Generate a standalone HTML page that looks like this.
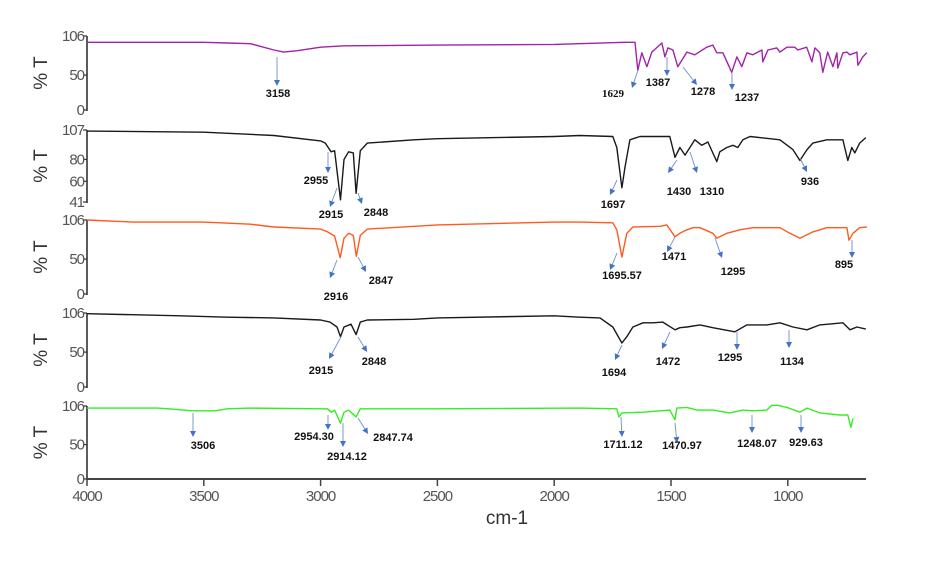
<!DOCTYPE html>
<html><head><meta charset="utf-8"><style>
html,body{margin:0;padding:0;background:#fff;}
svg{display:block;font-family:"Liberation Sans",sans-serif;}
.tk{font-size:15px;fill:#555;letter-spacing:-1px;}
.ann{font-size:11px;font-weight:bold;fill:#111;}
</style></head><body>
<svg id="chart" width="929" height="568" viewBox="0 0 929 568" xmlns="http://www.w3.org/2000/svg">
<g id="axes"></g>
<g id="series"></g>
<g id="annots"></g>
<text x="507" y="524" font-size="19" fill="#333" text-anchor="middle">cm-1</text>
</svg>
<script>
// x axis
const xTicks = [4000, 3500, 3000, 2500, 2000, 1500, 1000];
// panel y tick labels
const p1Ticks = [0, 50, 106];
const p2Ticks = [41, 60, 80, 107];
const p3Ticks = [0, 50, 106];
const p4Ticks = [0, 50, 106];
const p5Ticks = [0, 50, 106];
// series 1 (purple)
const s1W = [4000,3500,3400,3300,3200,3158,3100,3000,2900,2500,2000,1700,1654,1642,1625,1603,1582,1539,1526,1513,1492,1471,1432,1398,1347,1321,1304,1278,1240,1218,1197,1175,1150,1111,1107,1085,1047,1034,1004,970,957,919,897,884,863,850,829,807,790,786,764,747,734,704,700,679,662];
const s1V = [97,97,96,95,86,83,85,90,92,93,94,97,97,57,82,62,83,96,76,89,86,62,83,79,90,93,82,82,54,76,62,82,79,86,69,86,89,83,90,90,86,90,69,89,82,54,83,62,82,60,82,83,79,83,64,76,82];
// series 2 (black)
const s2W = [4000,3500,3200,3000,2980,2955,2940,2915,2900,2880,2860,2848,2830,2800,2600,2500,2000,1890,1749,1732,1710,1697,1676,1633,1505,1483,1462,1440,1419,1398,1368,1342,1321,1304,1291,1261,1235,1214,1192,1162,1034,978,948,918,893,833,764,743,726,713,692,666];
const s2V = [106,105,102,97,95,87,88,43,80,87,86,49,88,95,98,99,101,102,101,91,54,73,98,101,101,82,91,84,91,98,93,96,86,78,87,91,93,91,98,101,98,89,79,89,95,98,98,79,91,86,95,100];
// series 3 (orange)
const s3W = [4000,3800,3500,3300,3200,3000,2970,2940,2916,2900,2880,2860,2847,2830,2800,2500,2000,1890,1749,1732,1710,1689,1663,1547,1518,1483,1462,1432,1406,1376,1321,1304,1261,1205,1150,1034,991,948,893,833,747,738,721,692,662];
const s3V = [106,103,103,100,96,93,89,83,52,80,87,84,54,84,93,99,103,103,102,92,53,87,96,97,99,82,87,92,95,95,87,80,87,92,95,95,87,80,89,95,95,77,87,95,96];
// series 4 (black)
const s4W = [4000,3600,3400,3200,3000,2960,2930,2915,2900,2870,2848,2830,2800,2600,2500,2000,1890,1804,1749,1710,1689,1663,1620,1577,1535,1483,1462,1432,1376,1321,1227,1175,1090,1034,978,918,863,764,734,704,666];
const s4V = [105,102,100,99,96,93,86,72,86,90,75,93,96,97,99,102,100,99,86,63,72,86,92,92,93,82,85,86,89,85,79,89,89,92,86,82,89,92,82,86,83];
// series 5 (green)
const s5W = [4000,3700,3650,3550,3450,3400,3300,3000,2970,2954,2940,2915,2900,2880,2860,2848,2830,2500,1890,1732,1723,1710,1620,1505,1483,1475,1432,1389,1321,1248,1192,1150,1090,1069,1043,1004,948,918,863,777,743,730,721];
const s5V = [103,103,102,99,99,102,103,102,102,97,100,81,97,100,94,90,102,102,103,102,90,96,97,100,86,103,104,100,100,96,100,99,100,107,107,104,97,103,96,93,93,75,88];

const NS = "http://www.w3.org/2000/svg";
function mk(tag, attrs, parent){const e=document.createElementNS(NS,tag);for(const k in attrs)e.setAttribute(k,attrs[k]);parent.appendChild(e);return e;}
const xScale = w => 87 + (4000 - w) * 0.2336;
const panels = [
  {top:36, bot:110, min:0, max:106, ticks:p1Ticks, W:s1W, V:s1V, color:"#a024a8"},
  {top:130, bot:202, min:41, max:107, ticks:p2Ticks, W:s2W, V:s2V, color:"#1a1a1a"},
  {top:220, bot:294, min:0, max:106, ticks:p3Ticks, W:s3W, V:s3V, color:"#ff5a1f"},
  {top:313, bot:387, min:0, max:106, ticks:p4Ticks, W:s4W, V:s4V, color:"#1a1a1a"},
  {top:406, bot:479, min:0, max:106, ticks:p5Ticks, W:s5W, V:s5V, color:"#33ee22"}
];
const axes = document.getElementById('axes');
const ser = document.getElementById('series');
panels.forEach((p,i)=>{
  const yS = v => p.bot - (v - p.min) / (p.max - p.min) * (p.bot - p.top);
  const ax = mk('line',{x1:87,y1:p.top,x2:87,y2:p.bot+1,stroke:'#333','stroke-width':1.6},axes);
  
  
  p.ticks.forEach(t=>{
    const y=yS(t);
    const tl=mk('line',{x1:83,y1:y,x2:87,y2:y,stroke:'#333','stroke-width':1.2},axes);
    
    
    const tx=mk('text',{x:84,y:y+5,'text-anchor':'end',class:'tk'},axes);
    tx.textContent=t;
    
    
  });
  const cy=(p.top+p.bot)/2;
  const yt=mk('text',{x:47,y:cy,'font-size':19,fill:'#333','text-anchor':'middle',transform:`rotate(-90 47 ${cy})`},axes);
  yt.textContent='% T';
  
  
  const pts=p.W.map((w,j)=>xScale(w).toFixed(1)+','+yS(p.V[j]).toFixed(1)).join(' ');
  const pl=mk('polyline',{points:pts,fill:'none',stroke:p.color,'stroke-width':1.4,'stroke-linejoin':'round'},ser);
  
  
});
const xl=mk('line',{x1:86,y1:479,x2:866,y2:479,stroke:'#444','stroke-width':2},axes);


xTicks.forEach(t=>{
  const x=xScale(t);
  const l=mk('line',{x1:x,y1:479,x2:x,y2:486,stroke:'#444','stroke-width':1.5},axes);
  
  
  const tx=mk('text',{x:x,y:501,'text-anchor':'middle',class:'tk'},axes);
  tx.textContent=t;
  
  
});
// annotations: [x1,y1,x2,y2,label,lx,ly,serif]
const ann=[
 [277,57,277,86,'3158',278,97],
 [638,70,632,88,'1629',613,97,1],
 [667,57,667,76,'1387',658,86],
 [683,67,697,85,'1278',703,95],
 [732,73,732,90,'1237',747,101],
 [328,152,328,173,'2955',316,184],
 [337,188,330,207,'2915',331,218],
 [358,193,362,204,'2848',376,216],
 [617,180,610,195,'1697',613,208],
 [677,160,668,173,'1430',679,195],
 [690,152,697,173,'1310',712,195],
 [800,158,807,172,'936',810,185],
 [337,260,330,278,'2916',336,300],
 [358,257,366,272,'2847',381,284],
 [617,253,610,270,'1695.57',622,279],
 [675,237,667,252,'1471',674,260],
 [715,238,722,258,'1295',733,275],
 [852,240,852,258,'895',844,268],
 [342,335,329,359,'2915',321,374],
 [358,337,367,352,'2848',374,365],
 [622,345,615,360,'1694',614,376],
 [670,332,662,349,'1472',668,365],
 [737,332,737,350,'1295',730,361],
 [789,330,789,348,'1134',792,365],
 [193,413,193,437,'3506',203,449],
 [328,415,328,430,'2954.30',314,440],
 [343,423,343,447,'2914.12',347,460],
 [358,418,368,434,'2847.74',393,441],
 [621,417,622,437,'1711.12',623,448],
 [675,423,677,443,'1470.97',682,449],
 [752,415,752,433,'1248.07',757,447],
 [801,415,801,433,'929.63',806,446]
];
const an=document.getElementById('annots');
ann.forEach(a=>{
  const [x1,y1,x2,y2,lab,lx,ly,serif]=a;
  const g=mk('g',{},an);
  
  
  const dx=x2-x1,dy=y2-y1,L=Math.hypot(dx,dy),ux=dx/L,uy=dy/L;
  const bx=x2-ux*6,by=y2-uy*6;
  mk('line',{x1:x1,y1:y1,x2:bx,y2:by,stroke:'#6f8fd0','stroke-width':0.9},g);
  mk('polygon',{points:`${x2},${y2} ${bx-uy*3},${by+ux*3} ${bx+uy*3},${by-ux*3}`,fill:'#4472c4'},g);
  const t=mk('text',{x:lx,y:ly,'text-anchor':'middle',class:'ann'},g);
  if(serif){t.setAttribute('font-family','"Liberation Serif",serif');t.setAttribute('font-weight','normal');t.setAttribute('font-size','12');}
  t.textContent=lab;
});
</script>
</body></html>
